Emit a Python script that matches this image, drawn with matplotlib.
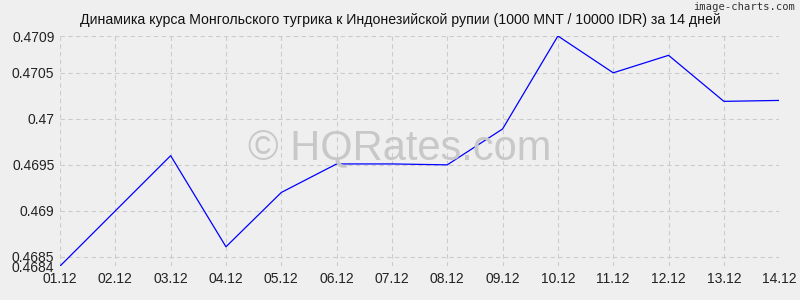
import matplotlib
matplotlib.use('Agg')
from matplotlib import pyplot as plt

dates = ['01.12', '02.12', '03.12', '04.12', '05.12', '06.12', '07.12',
         '08.12', '09.12', '10.12', '11.12', '12.12', '13.12', '14.12']
rates = [0.4684, 0.4690, 0.4696, 0.46861, 0.4692, 0.46951, 0.46951,
         0.4695, 0.46989, 0.4709, 0.4705, 0.47069, 0.47019, 0.4702]
yticks = [0.4684, 0.4685, 0.469, 0.4695, 0.47, 0.4705, 0.4709]
ylabels = ['0.4684', '0.4685', '0.469', '0.4695', '0.47', '0.4705', '0.4709']

plt.rcParams['font.family'] = ['Liberation Sans', 'DejaVu Sans']
bg = '#efefef'

fig = plt.figure(figsize=(8, 3), dpi=100, facecolor=bg)
ax = fig.add_axes([0.075, 0.113, 0.899, 0.767], facecolor=bg)

x = list(range(len(dates)))
ax.plot(x, rates, color='#0000ff', lw=0.9, zorder=3)

ax.set_xlim(0, len(dates) - 1)
ax.set_ylim(0.4684, 0.4709)
ax.set_xticks(x)
ax.set_xticklabels(dates)
ax.set_yticks(yticks)
ax.set_yticklabels(ylabels)
ax.tick_params(length=0, labelsize=10, colors='#222222', pad=4)
ax.grid(True, color='#cccccc', ls=(0, (4, 3)), lw=0.8)
for s in ax.spines.values():
    s.set_visible(False)

fig.text(0.5, 0.932, 'Динамика курса Монгольского тугрика к Индонезийской рупии (1000 MNT / 10000 IDR) за 14 дней',
         ha='center', va='center', fontsize=10.2, color='#111111')
fig.text(0.994, 0.978, 'image-charts.com', ha='right', va='center',
         fontsize=7.6, color='#333333', family='DejaVu Sans Mono')
fig.text(0.5, 0.505, '© HQRates.com', ha='center', va='center',
         fontsize=30, color='#c8c8c8', zorder=2)

plt.savefig('out.png', dpi=100, facecolor=bg)
